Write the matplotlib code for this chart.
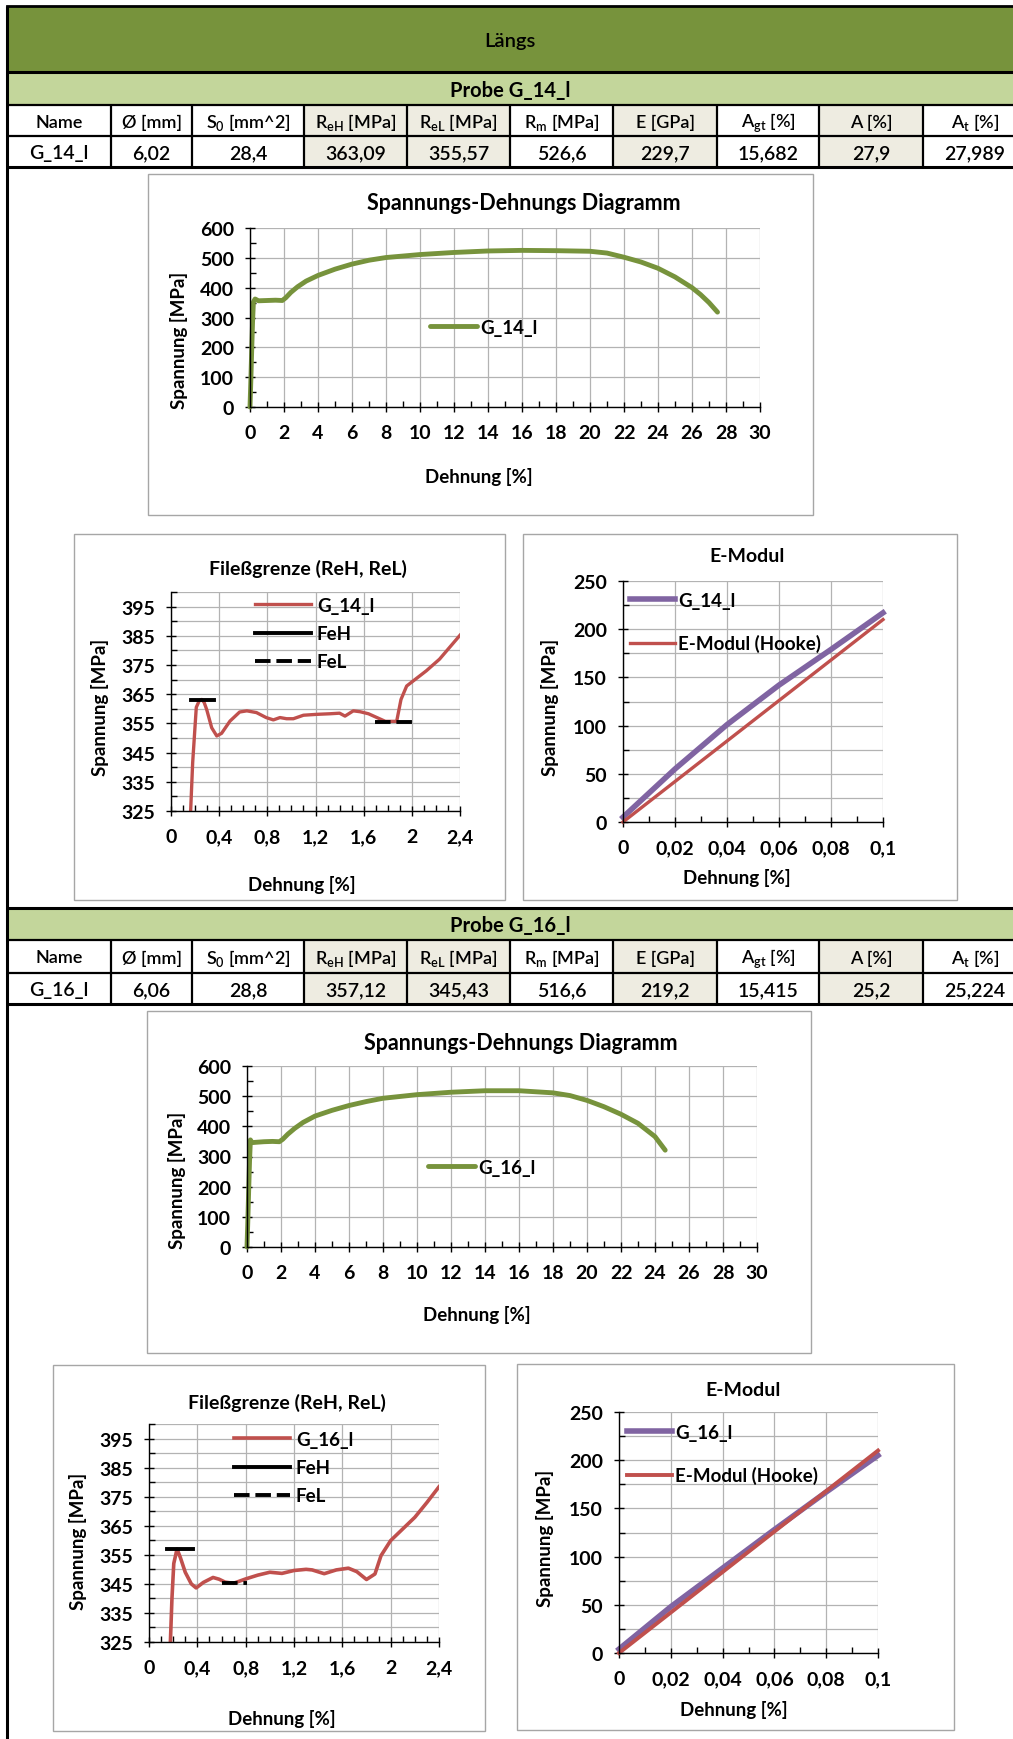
import numpy as np
import matplotlib
matplotlib.use('Agg')
import matplotlib.pyplot as plt
from matplotlib.patches import Rectangle
from matplotlib.ticker import MultipleLocator, FuncFormatter

plt.rcParams['font.family'] = ['Lato', 'DejaVu Sans']
plt.rcParams['font.weight'] = 'bold'
plt.rcParams['axes.labelweight'] = 'bold'
plt.rcParams['mathtext.fontset'] = 'custom'
plt.rcParams['mathtext.rm'] = 'Lato:semibold'
plt.rcParams['mathtext.it'] = 'Lato:italic'
plt.rcParams['mathtext.bf'] = 'Lato:bold'

W, H = 1013, 1740

# Tabellen
headers = ['Name', 'Ø [mm]', r'S$_\mathregular{0}$ [mm^2]', r'R$_\mathregular{eH}$ [MPa]',
           r'R$_\mathregular{eL}$ [MPa]', r'R$_\mathregular{m}$ [MPa]', 'E [GPa]',
           r'A$_\mathregular{gt}$ [%]', 'A [%]', r'A$_\mathregular{t}$ [%]']
g14_row = ['G_14_l', '6,02', '28,4', '363,09', '355,57', '526,6', '229,7', '15,682', '27,9', '27,989']
g16_row = ['G_16_l', '6,06', '28,8', '357,12', '345,43', '516,6', '219,2', '15,415', '25,2', '25,224']
shaded_cols = [3, 4, 6, 8]

# Spannungs-Dehnungs Kurven
sd14_x = [0, 0.05, 0.1, 0.15, 0.2, 0.3, 0.5, 1.0, 1.5, 1.9, 2.1, 2.4, 2.8, 3.3, 4, 5, 6, 7, 8, 10, 12,
          14, 16, 18, 20, 21, 22, 23, 24, 25, 26, 26.5, 27, 27.5]
sd14_y = [0, 90, 190, 285, 352, 362, 356, 357, 358, 357, 366, 384, 403, 422, 441, 462, 479, 492, 501, 511, 518,
          523, 525, 524, 522, 516, 502, 486, 465, 436, 400, 377, 350, 318]
sd16_x = [0, 0.05, 0.1, 0.15, 0.2, 0.3, 0.5, 1.0, 1.5, 1.9, 2.1, 2.4, 2.8, 3.3, 4, 5, 6, 7, 8, 10, 12,
          14, 16, 18, 19, 20, 21, 22, 23, 24, 24.6]
sd16_y = [0, 90, 190, 285, 355, 346, 347, 349, 350, 349, 357, 374, 393, 413, 434, 453, 469, 482, 493, 505, 513,
          518, 518, 511, 502, 486, 465, 440, 410, 366, 321]

# Fließgrenze
fg14_x = [0.163, 0.18, 0.21, 0.235, 0.255, 0.275, 0.296, 0.338, 0.38, 0.42, 0.49, 0.57, 0.63, 0.71, 0.79,
          0.85, 0.905, 0.96, 1.016, 1.10, 1.21, 1.32, 1.40, 1.445, 1.514, 1.57, 1.64, 1.71, 1.78, 1.874,
          1.91, 1.957, 2.01, 2.12, 2.23, 2.4]
fg14_y = [325, 341.6, 360.5, 362.8, 363.2, 362.2, 359.8, 353.5, 350.7, 351.6, 355.8, 358.9, 359.3, 358.7, 357,
          356.2, 357, 356.6, 356.6, 357.8, 358.1, 358.3, 358.5, 357.5, 359.3, 359, 358.3, 357, 355.7, 355.7,
          363.2, 367.8, 369.5, 373, 377, 385.2]
fg16_x = [0.177, 0.19, 0.205, 0.232, 0.26, 0.30, 0.35, 0.39, 0.45, 0.53, 0.58, 0.63, 0.70, 0.80, 0.90, 1.00,
          1.10, 1.20, 1.30, 1.35, 1.45, 1.55, 1.65, 1.72, 1.80, 1.87, 1.92, 2.00, 2.10, 2.20, 2.30, 2.40]
fg16_y = [325, 340, 352, 357, 354, 349, 345, 343.6, 345.5, 347.2, 346.6, 345.6, 345.2, 346.7, 348, 349,
          348.6, 349.6, 350, 349.8, 348.5, 349.8, 350.4, 349.2, 346.5, 348.4, 354.7, 359.9, 363.9, 367.9, 373, 378.4]
feh14_x, feh14_y = [0.17, 0.36], [363.09, 363.09]
fel14_x, fel14_y = [1.69, 2.0], [355.57, 355.57]
feh16_x, feh16_y = [0.15, 0.36], [357.12, 357.12]
fel16_x, fel16_y = [0.6, 0.81], [345.43, 345.43]

# E-Modul
em_x = [0, 0.02, 0.04, 0.06, 0.08, 0.1]
em14_y = [5, 55, 101, 142, 179, 217]
em16_y = [4, 48, 88, 128, 167, 205]
hooke_x = [0, 0.1]
hooke_y = [0, 210]

GREEN, LIGHT, BEIGE = '#77933C', '#C3D69B', '#EEECE1'
RED, PURPLE = '#C0504D', '#8064A2'

fig = plt.figure(figsize=(W / 100, H / 100), dpi=100)
bg = fig.add_axes([0, 0, 1, 1])
bg.set_xlim(0, W); bg.set_ylim(H, 0); bg.axis('off')

col_edges = [7, 111, 192, 304, 407, 510, 613, 717, 819, 923, 1027]


def table(y_green, y_hdr, y_row, y_end, probe, row):
    bg.add_patch(Rectangle((7, y_green), W, y_hdr - y_green, fc=LIGHT, ec='none'))
    bg.text(510, (y_green + y_hdr) / 2 + 1, probe, ha='center', va='center', fontsize=14.5)
    for i in range(len(headers)):
        x0, x1 = col_edges[i], col_edges[i + 1]
        if i in shaded_cols:
            bg.add_patch(Rectangle((x0, y_hdr), x1 - x0, y_end - y_hdr, fc=BEIGE, ec='none'))
        bg.text((x0 + x1) / 2, (y_hdr + y_row) / 2 + 1, headers[i], ha='center', va='center',
                fontsize=13, fontweight='semibold')
        bg.text((x0 + x1) / 2, (y_row + y_end) / 2 + 1, row[i], ha='center', va='center',
                fontsize=14, fontweight='semibold')
    bg.hlines([y_green], 7, W, color='black', lw=2.2)
    bg.hlines([y_hdr, y_row], 7, W, color='black', lw=1.6)
    bg.hlines([y_end], 7, W, color='black', lw=2.2)
    bg.vlines(col_edges[1:-1], y_hdr, y_end, color='black', lw=1.6)


# Kopfzeile
bg.add_patch(Rectangle((7, 7), W, 66, fc=GREEN, ec='black', lw=2))
bg.text(510, 41, 'Längs', ha='center', va='center', fontsize=14.5, fontweight='semibold')
table(73, 106, 137, 168, 'Probe G_14_l', g14_row)
table(909, 941, 974, 1005, 'Probe G_16_l', g16_row)
bg.vlines(7, 7, H, color='black', lw=2.2)


def comma(v, pos):
    return f'{round(v, 4):g}'.replace('.', ',')


def chart(box, plot, xlim, ylim, xmaj, xmin, yticks, ymin, ygrid_minor, title, tsize, title_xy, xl_xy, yl_xy):
    bg.add_patch(Rectangle((box[0], box[1]), box[2] - box[0], box[3] - box[1],
                           fc='white', ec='#A6A6A6', lw=1))
    x0, y0, x1, y1 = plot
    ax = fig.add_axes([x0 / W, 1 - y1 / H, (x1 - x0) / W, (y1 - y0) / H])
    ax.set_facecolor('none')
    ax.set_xlim(xlim); ax.set_ylim(ylim)
    ax.xaxis.set_major_locator(MultipleLocator(xmaj))
    ax.xaxis.set_minor_locator(MultipleLocator(xmin))
    ax.set_yticks(yticks)
    ax.set_yticks(np.arange(ylim[0], ylim[1] + ymin / 2, ymin), minor=True)
    ax.xaxis.set_major_formatter(FuncFormatter(comma))
    ax.yaxis.set_major_formatter(FuncFormatter(comma))
    for s in ('top', 'right'):
        ax.spines[s].set_visible(False)
    for s in ('left', 'bottom'):
        ax.spines[s].set_color('black'); ax.spines[s].set_linewidth(1)
    ax.tick_params(which='major', direction='inout', length=7, width=1, labelsize=14)
    ax.tick_params(which='minor', direction='in', length=4, width=1)
    ax.tick_params(axis='x', which='major', pad=9)
    ax.tick_params(axis='y', which='major', pad=8)
    ax.grid(which='major', color='#B3B3B3', lw=0.9)
    if ygrid_minor:
        ax.grid(which='minor', axis='y', color='#B3B3B3', lw=0.9)
    ax.set_axisbelow(True)

    def frac(px, py):
        return (px - x0) / (x1 - x0), (y1 - py) / (y1 - y0)

    ax.text(*frac(*title_xy), title, transform=ax.transAxes, ha='center', va='center', fontsize=tsize)
    ax.set_xlabel('Dehnung [%]', fontsize=13.5, va='center')
    ax.xaxis.set_label_coords(*frac(*xl_xy))
    ax.set_ylabel('Spannung [MPa]', fontsize=13.5, va='center')
    ax.yaxis.set_label_coords(*frac(*yl_xy))
    return ax


def legend(ax, px, py, hl, spacing, tpad):
    ax.legend(loc='upper left', bbox_to_anchor=(px / W, 1 - (py - 7) / H), bbox_transform=fig.transFigure,
              frameon=False, fontsize=13.5, handlelength=hl, labelspacing=spacing, handletextpad=tpad,
              borderpad=0, borderaxespad=0)


# --- Probe G_14_l ---
ax = chart((148, 175, 813, 516), (250, 229, 760, 408), (0, 30), (0, 600), 2, 1,
           np.arange(0, 601, 100), 50, False, 'Spannungs-Dehnungs Diagramm', 15.5,
           (524, 203), (479, 477), (179, 340))
ax.plot(sd14_x, sd14_y, color=GREEN, lw=3.5, label='G_14_l', clip_on=False, solid_capstyle='round')
legend(ax, 430, 327, 2.5, 0.5, 0.2)

ax = chart((74, 535, 505, 901), (171, 593, 460, 812), (0, 2.4), (325, 400), 0.4, 0.1,
           np.arange(325, 396, 10), 5, True, 'Fileßgrenze (ReH, ReL)', 14, (308, 569), (302, 885), (100, 707))
ax.plot(fg14_x, fg14_y, color=RED, lw=2.4, label='G_14_l')
ax.plot(feh14_x, feh14_y, color='black', lw=2.8, label='FeH')
ax.plot(fel14_x, fel14_y, color='black', lw=2.8, ls=(0, (4, 1.5)), label='FeL')
legend(ax, 255, 605, 3.0, 0.6, 0.3)

ax = chart((523, 535, 957, 901), (623, 582, 883, 823), (0, 0.1), (0, 250), 0.02, 0.01,
           np.arange(0, 251, 50), 25, True, 'E-Modul', 14, (747, 557), (737, 878), (550, 707))
ax.plot(em_x, em14_y, color=PURPLE, lw=4, label='G_14_l', clip_on=False)
ax.plot(hooke_x, hooke_y, color=RED, lw=2.4, label='E-Modul (Hooke)', clip_on=False)
legend(ax, 630, 600, 2.4, 1.35, 0.15)

# --- Probe G_16_l ---
ax = chart((147, 1012, 811, 1354), (247, 1067, 757, 1248), (0, 30), (0, 600), 2, 1,
           np.arange(0, 601, 100), 50, False, 'Spannungs-Dehnungs Diagramm', 15.5,
           (521, 1043), (477, 1315), (177, 1180))
ax.plot(sd16_x, sd16_y, color=GREEN, lw=3.5, label='G_16_l', clip_on=False, solid_capstyle='round')
legend(ax, 428, 1167, 2.5, 0.5, 0.2)

ax = chart((53, 1366, 485, 1732), (149, 1425, 439, 1643), (0, 2.4), (325, 400), 0.4, 0.1,
           np.arange(325, 396, 10), 5, True, 'Fileßgrenze (ReH, ReL)', 14, (287, 1403), (282, 1719), (78, 1541))
ax.plot(fg16_x, fg16_y, color=RED, lw=2.6, label='G_16_l')
ax.plot(feh16_x, feh16_y, color='black', lw=2.8, label='FeH')
ax.plot(fel16_x, fel16_y, color='black', lw=2.8, ls=(0, (4, 1.5)), label='FeL')
legend(ax, 234, 1439, 3.0, 0.6, 0.3)

ax = chart((517, 1365, 954, 1731), (619, 1413, 878, 1654), (0, 0.1), (0, 250), 0.02, 0.01,
           np.arange(0, 251, 50), 25, True, 'E-Modul', 14, (743, 1391), (734, 1710), (545, 1538))
ax.plot(em_x, em16_y, color=PURPLE, lw=4, label='G_16_l', clip_on=False)
ax.plot(hooke_x, hooke_y, color=RED, lw=2.8, label='E-Modul (Hooke)', clip_on=False)
legend(ax, 627, 1432, 2.4, 1.35, 0.15)

fig.savefig('out.png', dpi=100)
